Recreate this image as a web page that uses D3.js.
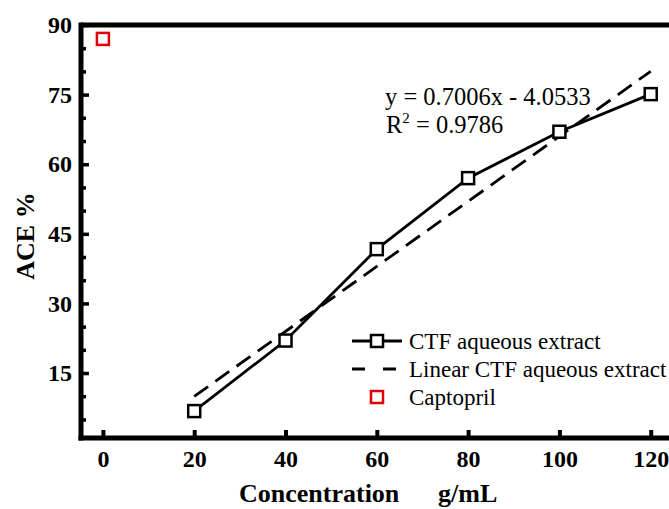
<!DOCTYPE html>
<html>
<head>
<meta charset="utf-8">
<script src="https://cdn.jsdelivr.net/npm/d3@7"></script>
<style>
  body { margin: 0; background: #fff; }
  svg { display: block; font-family: "Liberation Serif", "Times New Roman", serif; }
</style>
</head>
<body>
<svg id="canvas"></svg>
<script>
// data
let concentrations = [20, 40, 60, 80, 100, 120];
let ctfValues = [6.8, 22, 41.7, 57, 67, 75.1];
let captoprilX = [0];
let captoprilY = [87];
let slope = 0.7006;
let intercept = -4.0533;
let xTicks = [0, 20, 40, 60, 80, 100, 120];
let yTicks = [15, 30, 45, 60, 75, 90];
let yMinorTicks = [5, 10, 20, 25, 35, 40, 50, 55, 65, 70, 80, 85];
let legendNames = ['CTF aqueous extract', 'Linear CTF aqueous extract', 'Captopril'];

let width = 669;
let height = 509;
let plotLeft = 81;
let plotTop = 25;
let plotBottom = 438;

let canvas = d3.select('#canvas')
  .attr('width', width)
  .attr('height', height);

let xScale = d3.scaleLinear()
  .domain([-4.8, 125])
  .range([plotLeft, plotLeft + 129.8 * 91.3 / 20]);

let yScale = d3.scaleLinear()
  .domain([1, 90])
  .range([plotBottom, plotTop]);

// frame: top line runs off to the right
canvas.append('line')
  .attr('x1', plotLeft).attr('x2', width + 10)
  .attr('y1', plotTop).attr('y2', plotTop)
  .attr('stroke', 'black').attr('stroke-width', 5);

// y axis
let yAxis = d3.axisLeft(yScale)
  .tickValues(yTicks)
  .tickSize(-8)
  .tickPadding(9)
  .tickFormat(d3.format('d'));

let yg = canvas.append('g')
  .attr('transform', `translate(${plotLeft},0)`)
  .call(yAxis);
yg.select('.domain').remove();
yg.selectAll('.tick line').attr('stroke-width', 3.5);
yg.selectAll('.tick text')
  .attr('font-size', 24).attr('font-weight', 'bold')
  .attr('font-family', 'Liberation Serif').attr('fill', 'black');

canvas.append('g')
  .attr('transform', `translate(${plotLeft},0)`)
  .call(d3.axisLeft(yScale).tickValues(yMinorTicks).tickSize(-5).tickFormat(''))
  .call(g => g.select('.domain').remove())
  .selectAll('.tick line').attr('stroke-width', 3.5);

canvas.append('line')
  .attr('x1', plotLeft).attr('x2', plotLeft)
  .attr('y1', plotTop - 2.5).attr('y2', plotBottom + 2.5)
  .attr('stroke', 'black').attr('stroke-width', 5);

// x axis
let xAxis = d3.axisBottom(xScale)
  .tickValues(xTicks)
  .tickSize(-8)
  .tickPadding(12)
  .tickFormat(d3.format('d'));

let xg = canvas.append('g')
  .attr('transform', `translate(0,${plotBottom})`)
  .call(xAxis);
xg.select('.domain').remove();
xg.selectAll('.tick line').attr('stroke-width', 4);
xg.selectAll('.tick text')
  .attr('font-size', 24).attr('font-weight', 'bold')
  .attr('font-family', 'Liberation Serif').attr('fill', 'black');

canvas.append('line')
  .attr('x1', plotLeft - 2.5).attr('x2', width + 10)
  .attr('y1', plotBottom).attr('y2', plotBottom)
  .attr('stroke', 'black').attr('stroke-width', 5);

// axis titles
let xt = canvas.append('text')
  .attr('y', 502)
  .attr('font-size', 26).attr('font-weight', 'bold');
xt.append('tspan').attr('x', 239).text('Concentration');
xt.append('tspan').attr('x', 438).text('g/mL');

canvas.append('text')
  .attr('transform', 'translate(34,236) rotate(-90)')
  .attr('text-anchor', 'middle')
  .attr('font-size', 26).attr('font-weight', 'bold')
  .text('ACE %');

// linear fit
let fitX = [concentrations[0], concentrations[concentrations.length - 1]];
canvas.append('line')
  .attr('x1', xScale(fitX[0])).attr('y1', yScale(slope * fitX[0] + intercept))
  .attr('x2', xScale(fitX[1])).attr('y2', yScale(slope * fitX[1] + intercept))
  .attr('stroke', 'black').attr('stroke-width', 2.8)
  .attr('stroke-dasharray', '17,9');

// CTF line
let line = d3.line()
  .x((d, i) => xScale(concentrations[i]))
  .y(d => yScale(d));

canvas.append('path')
  .attr('d', line(ctfValues))
  .attr('fill', 'none')
  .attr('stroke', 'black').attr('stroke-width', 2.8);

let ms = 12;
canvas.selectAll('.ctf')
  .data(ctfValues)
  .enter()
  .append('rect')
  .attr('class', 'ctf')
  .attr('x', (d, i) => xScale(concentrations[i]) - ms / 2)
  .attr('y', d => yScale(d) - ms / 2)
  .attr('width', ms).attr('height', ms)
  .attr('fill', 'white').attr('stroke', 'black').attr('stroke-width', 2.5);

canvas.selectAll('.capto')
  .data(captoprilY)
  .enter()
  .append('rect')
  .attr('class', 'capto')
  .attr('x', (d, i) => xScale(captoprilX[i]) - ms / 2)
  .attr('y', d => yScale(d) - ms / 2)
  .attr('width', ms).attr('height', ms)
  .attr('fill', 'white').attr('stroke', '#e00000').attr('stroke-width', 2.5);

// equation
canvas.append('text')
  .attr('x', 385).attr('y', 105)
  .attr('font-size', 24.5)
  .text('y = 0.7006x - 4.0533');

let r2 = canvas.append('text')
  .attr('x', 386).attr('y', 133)
  .attr('font-size', 24.5);
r2.append('tspan').text('R');
r2.append('tspan').attr('font-size', 15).attr('dy', -10).text('2');
r2.append('tspan').attr('dy', 10).text(' = 0.9786');

// legend
let legendY = [341, 369, 397];
let lg = canvas.append('g');

lg.append('line')
  .attr('x1', 352).attr('x2', 402)
  .attr('y1', legendY[0]).attr('y2', legendY[0])
  .attr('stroke', 'black').attr('stroke-width', 2.8);
lg.append('rect')
  .attr('x', 377 - ms / 2).attr('y', legendY[0] - ms / 2)
  .attr('width', ms).attr('height', ms)
  .attr('fill', 'white').attr('stroke', 'black').attr('stroke-width', 2.5);

lg.append('line')
  .attr('x1', 352).attr('x2', 396)
  .attr('y1', legendY[1]).attr('y2', legendY[1])
  .attr('stroke', 'black').attr('stroke-width', 2.8)
  .attr('stroke-dasharray', '13,18');

lg.append('rect')
  .attr('x', 377 - ms / 2).attr('y', legendY[2] - ms / 2)
  .attr('width', ms).attr('height', ms)
  .attr('fill', 'white').attr('stroke', '#e00000').attr('stroke-width', 2.5);

lg.selectAll('.ltext')
  .data(legendNames)
  .enter()
  .append('text')
  .attr('class', 'ltext')
  .attr('x', 409)
  .attr('y', (d, i) => legendY[i] + 8)
  .attr('font-size', 23)
  .text(d => d);
</script>
</body>
</html>
